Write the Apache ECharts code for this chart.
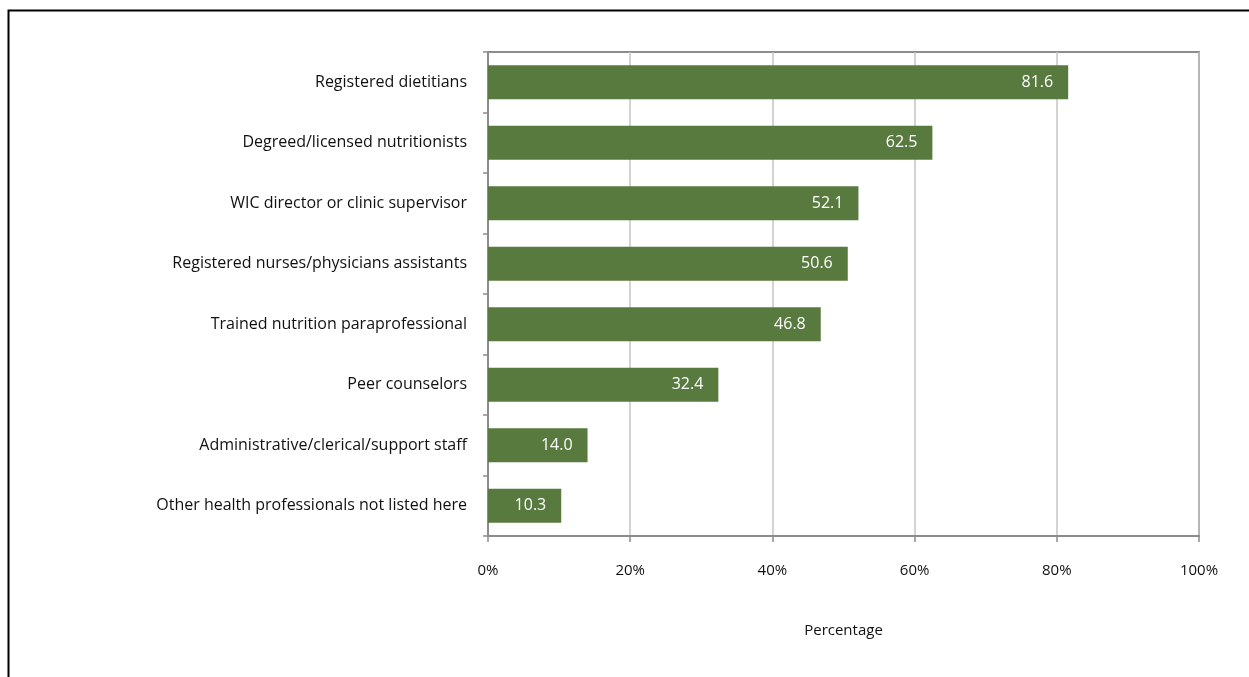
<!DOCTYPE html>
<html>
<head>
<meta charset="utf-8">
<title>WIC staff providing nutrition services</title>
<script src="https://cdn.jsdelivr.net/npm/echarts@6/dist/echarts.min.js"></script>
<style>
  html, body { margin: 0; padding: 0; background: #ffffff; }
  #chart { width: 1249px; height: 677px; }
</style>
</head>
<body>
<div id="chart"></div>
<script>
// Staff categories, top to bottom
const categories = [
  'Registered dietitians',
  'Degreed/licensed nutritionists',
  'WIC director or clinic supervisor',
  'Registered nurses/physicians assistants',
  'Trained nutrition paraprofessional',
  'Peer counselors',
  'Administrative/clerical/support staff',
  'Other health professionals not listed here'
];
// Percentage of agencies reporting each staff type
const percentages = [81.6, 62.5, 52.1, 50.6, 46.8, 32.4, 14.0, 10.3];
// Horizontal axis ticks
const xTicks = [0, 20, 40, 60, 80, 100];

const FONT = '"Open Sans", Lato, sans-serif';
const chart = echarts.init(document.getElementById('chart'), null, { renderer: 'canvas' });

chart.setOption({
  animation: false,
  backgroundColor: '#ffffff',
  textStyle: { fontFamily: FONT },
  graphic: [{
    type: 'rect',
    left: 6, top: 8,
    shape: { width: 1260, height: 700 },
    style: { fill: 'none', stroke: '#000000', lineWidth: 2 },
    silent: true
  }],
  grid: {
    left: 488, right: 50, top: 52, bottom: 141,
    show: true, borderColor: '#8c8c8c', borderWidth: 2,
    containLabel: false
  },
  xAxis: {
    type: 'value',
    min: xTicks[0], max: xTicks[xTicks.length - 1], interval: 20,
    name: 'Percentage',
    nameLocation: 'middle',
    nameGap: 87,
    nameTextStyle: { color: '#111111', fontSize: 15, fontFamily: FONT },
    axisLine: { show: true, lineStyle: { color: '#8c8c8c', width: 2 } },
    axisTick: { show: true, length: 6, lineStyle: { color: '#8c8c8c', width: 1.5 } },
    axisLabel: {
      margin: 27, color: '#111111', fontSize: 15, fontFamily: FONT,
      formatter: v => v + '%'
    },
    splitLine: { show: true, lineStyle: { color: '#c4c4c4', width: 1.5 } }
  },
  yAxis: {
    type: 'category',
    data: categories,
    inverse: true,
    axisLine: { show: true, lineStyle: { color: '#8c8c8c', width: 2 } },
    axisTick: { show: true, inside: false, length: 5, alignWithLabel: false, lineStyle: { color: '#8c8c8c', width: 1.5 } },
    axisLabel: { margin: 21, color: '#111111', fontSize: 16, fontFamily: FONT },
    splitLine: { show: false }
  },
  series: [{
    type: 'bar',
    data: percentages,
    barWidth: 34,
    itemStyle: { color: '#587a3f' },
    label: {
      show: true,
      position: 'insideRight',
      distance: 15,
      color: '#ffffff',
      fontSize: 16,
      fontFamily: FONT,
      formatter: p => p.value.toFixed(1)
    }
  }]
});
</script>
</body>
</html>
